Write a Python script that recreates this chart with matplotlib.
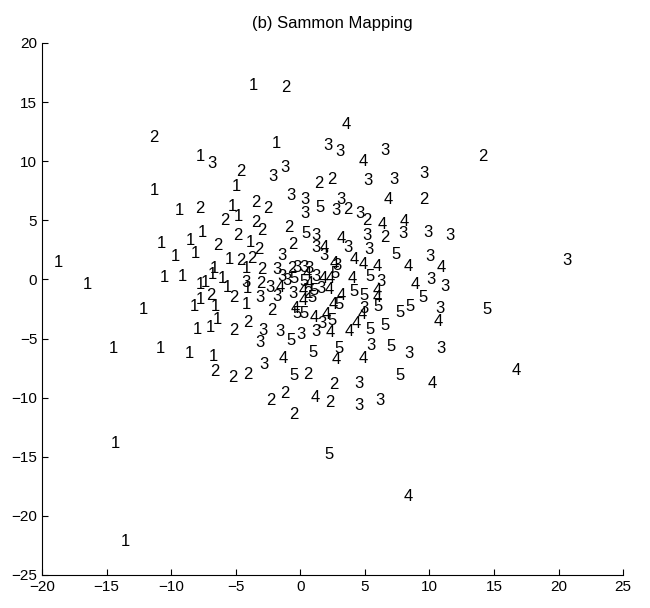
import numpy as np
import matplotlib
matplotlib.use("Agg")
import matplotlib.pyplot as plt

plt.rcParams['font.family'] = ['Liberation Sans', 'DejaVu Sans']

# Sammon mapping coordinates, one pair of lists per class
c1_x = [-3.64, -1.86, -7.75, -11.27, -4.97, -9.36, -5.22, -4.80, -7.55, -10.79, -8.52, -3.90,
        -9.69, -8.13, -18.71, -5.48, -4.16, -6.68, -10.56, -9.10, -16.48, -6.84, -6.03, -7.71,
        -7.33, -5.61, -4.10, -7.71, -4.16, -12.18, -8.23, -6.61, -6.45, -7.97, -6.94, -14.44,
        -10.82, -8.62, -6.74, -14.34, -13.53]
c1_y = [16.38, 11.50, 10.44, 7.51, 7.87, 5.82, 6.14, 5.33, 3.97, 3.06, 3.32, 3.15,
        1.92, 2.18, 1.43, 1.66, 0.94, 0.94, 0.13, 0.29, -0.42, 0.39, 0.07, -0.40,
        -0.30, -0.68, -0.80, -1.66, -2.08, -2.54, -2.31, -2.31, -3.38, -4.26, -4.10, -5.82,
        -5.88, -6.27, -6.53, -13.85, -22.20]

c2_x = [-1.12, -11.37, 14.17, -4.58, 1.47, 2.47, 9.58, -7.75, -5.81, -3.45, -2.54, 3.67,
        5.19, -3.45, -2.96, -4.80, -0.92, 6.58, -6.42, -3.19, -0.60, -4.64, -3.77, -2.96,
        -0.69, -3.03, -6.94, -5.16, 0.60, -2.22, -4.09, -5.13, -6.61, -5.22, -4.09, 0.59,
        2.63, -1.18, -2.25, 2.28, -0.47]
c2_y = [16.22, 12.00, 10.37, 9.17, 8.09, 8.42, 6.73, 5.98, 5.00, 6.53, 5.98, 5.92,
        5.00, 4.84, 4.13, 3.71, 4.36, 3.54, 2.83, 2.57, 2.96, 1.59, 1.76, 0.85,
        0.94, -0.36, -1.33, -1.56, -1.20, -2.63, -3.61, -4.36, -7.83, -8.32, -8.00, -8.00,
        -8.91, -9.62, -10.27, -10.37, -11.41]

c3_x = [2.11, 3.08, 6.58, -6.84, -2.15, -1.18, 9.58, 5.22, 7.29, -0.70, 0.37, 3.12,
        2.76, 0.34, 4.64, 1.24, 5.19, 7.93, 9.91, 11.59, 3.73, 5.28, 1.24, -1.44,
        1.83, 10.07, 20.64, -1.77, -0.22, 0.29, 0.68, 2.86, -4.20, -2.32, -1.38, -1.00,
        1.19, 6.25, 10.13, 11.17, -3.12, -1.77, -0.54, 1.58, 4.96, 10.78, 1.66, -2.86,
        -1.60, 0.05, 1.24, -3.12, 5.51, 8.45, 10.88, -2.80, 4.51, 4.57, 6.19]
c3_y = [11.35, 10.86, 10.92, 9.79, 8.68, 9.46, 8.97, 8.36, 8.42, 7.12, 6.79, 6.73,
        5.82, 5.56, 5.59, 3.71, 3.71, 3.87, 3.93, 3.71, 2.67, 2.57, 2.73, 2.02,
        2.02, 1.92, 1.59, 0.88, 0.99, 0.99, 0.94, 1.20, -0.30, -0.70, 0.23, -0.05,
        0.23, -0.20, 0.03, -0.62, -1.56, -1.43, -1.17, -0.75, -2.47, -2.47, -3.77, -4.32,
        -4.42, -4.65, -4.42, -5.30, -5.56, -6.27, -5.88, -7.18, -8.81, -10.66, -10.27]

c4_x = [3.57, 4.89, 6.80, 6.32, 8.03, 3.18, 1.83, 2.63, 4.15, 4.86, 5.93, 8.35,
        10.94, -1.57, 0.55, 0.68, 1.80, 2.30, 2.22, 3.99, 8.90, 0.27, 0.27, 6.00,
        6.00, 3.18, -0.35, 2.53, 1.06, 2.05, 4.80, 4.31, 10.68, 2.31, 3.76, 2.79,
        4.86, -1.35, 16.76, 10.23, 1.18, 8.35]
c4_y = [13.13, 9.98, 6.73, 4.68, 4.94, 3.48, 2.73, 1.35, 1.69, 1.27, 1.11, 1.11,
        1.00, -0.65, 0.50, -0.33, 0.10, 0.10, -0.81, 0.07, -0.42, -0.94, -1.82, -0.95,
        -1.55, -1.33, -2.45, -2.15, -3.20, -3.00, -2.96, -3.71, -3.54, -4.52, -4.42, -6.79,
        -6.70, -6.70, -7.67, -8.81, -9.95, -18.40]

c5_x = [1.56, 0.43, 7.38, 2.70, -0.50, 0.29, 1.06, 5.44, 0.92, 4.15, 4.96, 9.49,
        -0.22, 0.29, 3.02, 6.03, 7.71, 8.52, 14.43, 2.47, 6.58, 5.38, -0.70, 0.98,
        3.02, 7.00, -0.47, 7.71, 2.21]
c5_y = [6.05, 3.87, 2.08, 0.52, 0.05, -0.19, -0.90, 0.23, -1.50, -1.00, -1.40, -1.50,
        -2.87, -2.87, -2.15, -2.31, -2.80, -2.31, -2.54, -3.50, -3.93, -4.26, -5.17, -6.14,
        -5.88, -5.66, -8.16, -8.16, -14.82]

classes = ['1', '2', '3', '4', '5']
xs = [c1_x, c2_x, c3_x, c4_x, c5_x]
ys = [c1_y, c2_y, c3_y, c4_y, c5_y]

fig = plt.figure(figsize=(6.5, 6.08), dpi=100)
ax = fig.add_axes([0.0646, 0.0543, 0.894, 0.875])

for lab, px, py in zip(classes, xs, ys):
    for x, y in zip(px, py):
        ax.text(x, y, lab, fontsize=12, ha='center', va='center', color='black')

ax.set_xlim(-20, 25)
ax.set_ylim(-25, 20)
ax.set_xticks(np.arange(-20, 26, 5))
ax.set_yticks(np.arange(-25, 21, 5))
ax.spines['top'].set_visible(False)
ax.spines['right'].set_visible(False)
ax.spines['left'].set_linewidth(0.8)
ax.spines['bottom'].set_linewidth(0.8)
ax.tick_params(direction='in', length=4, width=0.8, labelsize=11)
ax.set_title('(b) Sammon Mapping', fontsize=12, pad=11)

fig.savefig('out.png', dpi=100)
